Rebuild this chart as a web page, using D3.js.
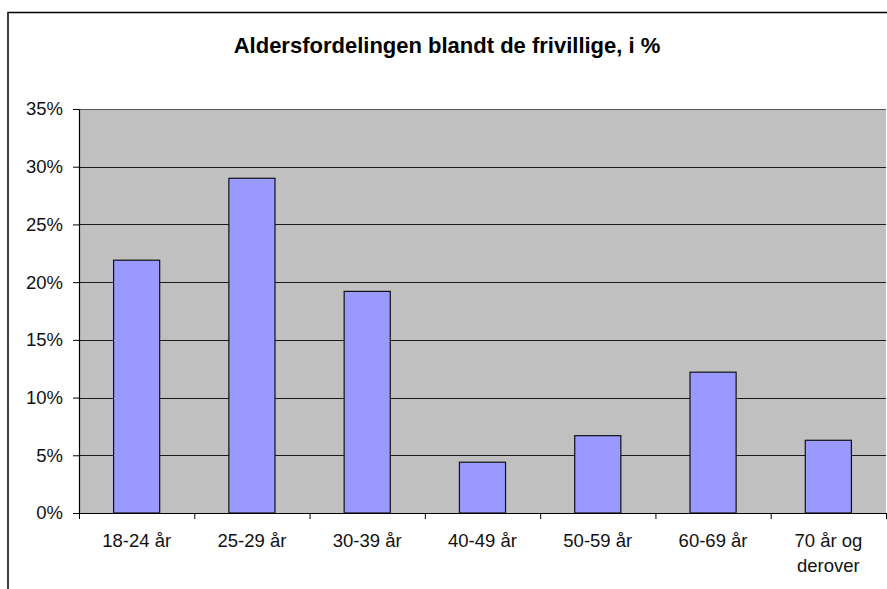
<!DOCTYPE html>
<html>
<head>
<meta charset="utf-8">
<script src="https://cdn.jsdelivr.net/npm/d3@7"></script>
<style>
	body { margin: 0; background: #fff; }
	svg { display: block; font-family: "Liberation Sans", Arial, sans-serif; }
</style>
</head>
<body>
<div id="chart"></div>
<script>
var categories = ["18-24 år", "25-29 år", "30-39 år", "40-49 år", "50-59 år", "60-69 år", "70 år og|derover"];
var values = [21.9, 29.0, 19.2, 4.4, 6.7, 12.2, 6.3];
var yTicks = [0, 5, 10, 15, 20, 25, 30, 35];
var title = "Aldersfordelingen blandt de frivillige, i %";

var width = 887, height = 589;
var margin = {top: 109, right: 1, bottom: 76, left: 79};
var plotW = width - margin.left - margin.right;
var plotH = height - margin.top - margin.bottom;

var svg = d3.select("#chart").append("svg")
	.attr("width", width)
	.attr("height", height);

// outer frame (runs off the bottom and right of the picture)
svg.append("path")
	.attr("d", "M8," + (height + 5) + "V12.5H" + (width + 5))
	.attr("fill", "none")
	.attr("stroke", "#000")
	.attr("stroke-width", 1.5);

svg.append("text")
	.attr("x", 447)
	.attr("y", 53)
	.attr("text-anchor", "middle")
	.attr("font-size", "22px")
	.attr("font-weight", "bold")
	.attr("fill", "#000")
	.text(title);

var g = svg.append("g")
	.attr("transform", "translate(" + margin.left + "," + margin.top + ")");

var x = d3.scaleBand().domain(categories).range([0, plotW]).paddingInner(0.6).paddingOuter(0.3);
var xb = d3.scaleLinear().domain([0, categories.length]).range([0, plotW]);
var y = d3.scaleLinear().domain([0, 35]).range([plotH, 0]);

// plot background
g.append("rect")
	.attr("width", plotW)
	.attr("height", plotH)
	.attr("fill", "#c0c0c0");

// gridlines
g.selectAll("line.grid")
	.data(yTicks.slice(1))
	.enter().append("line")
	.attr("class", "grid")
	.attr("x1", 0)
	.attr("x2", plotW)
	.attr("y1", function(d) { return Math.round(y(d)) + 0.5; })
	.attr("y2", function(d) { return Math.round(y(d)) + 0.5; })
	.attr("stroke", function(d) { return d === 35 ? "#555" : "#1a1a1a"; })
	.attr("stroke-width", 1.2);

// bars
g.selectAll("rect.bar")
	.data(values)
	.enter().append("rect")
	.attr("class", "bar")
	.attr("x", function(d, i) { return x(categories[i]); })
	.attr("width", x.bandwidth())
	.attr("y", function(d) { return y(d); })
	.attr("height", function(d) { return plotH - y(d); })
	.attr("fill", "#9999ff")
	.attr("stroke", "#111")
	.attr("stroke-width", 1.2);

// y axis
var yAxis = g.append("g")
	.call(d3.axisLeft(y).tickValues(yTicks).tickSize(6).tickPadding(10).tickFormat(function(d) { return d + "%"; }));
yAxis.select(".domain").attr("d", "M0.5," + plotH + "V0").attr("stroke", "#000").attr("stroke-width", 1.2);
yAxis.selectAll("text").attr("font-size", "18.5px").attr("font-family", "Liberation Sans, Arial, sans-serif").attr("fill", "#111");

// x axis
var xAxis = g.append("g")
	.attr("transform", "translate(0," + plotH + ")")
	.call(d3.axisBottom(xb).ticks(categories.length).tickSize(6).tickFormat(""));
xAxis.select(".domain").attr("d", "M0," + 0.5 + "H" + plotW).attr("stroke", "#000").attr("stroke-width", 1.2);

g.selectAll("text.cat")
	.data(categories)
	.enter().append("text")
	.attr("class", "cat")
	.attr("text-anchor", "middle")
	.attr("font-size", "18.5px")
	.attr("fill", "#111")
	.attr("transform", function(d) { return "translate(" + (x(d) + x.bandwidth() / 2) + "," + (plotH + 34) + ")"; })
	.each(function(d) {
		var t = d3.select(this);
		d.split("|").forEach(function(line, i) {
			t.append("tspan").attr("x", 0).attr("dy", i === 0 ? 0 : 25).text(line);
		});
	});
</script>
</body>
</html>
